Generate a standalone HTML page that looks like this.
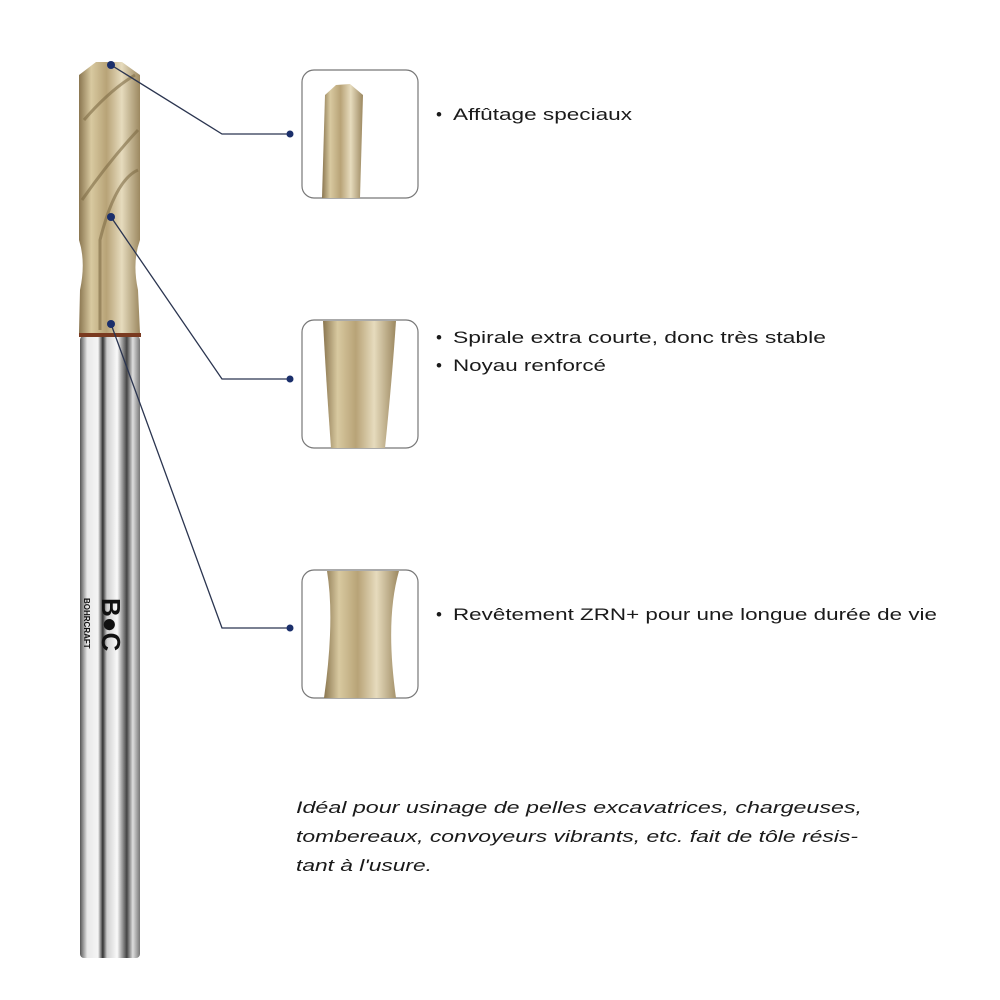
<!DOCTYPE html>
<html><head><meta charset="utf-8"><style>
body{margin:0;background:#fff;}
svg{display:block}
text{font-family:"Liberation Sans",sans-serif;fill:#1a1a1a}
</style></head><body>
<svg width="1000" height="1000" viewBox="0 0 1000 1000" xmlns="http://www.w3.org/2000/svg">
<defs>
<linearGradient id="gold" x1="0" x2="1" y1="0" y2="0">
<stop offset="0" stop-color="#8a7650"/><stop offset="0.2" stop-color="#d8c9a0"/><stop offset="0.45" stop-color="#b8a377"/><stop offset="0.7" stop-color="#e6dbbd"/><stop offset="1" stop-color="#9c8860"/>
</linearGradient>
<linearGradient id="steel" x1="0" x2="1" y1="0" y2="0">
<stop offset="0" stop-color="#555"/><stop offset="0.12" stop-color="#e8e8e8"/><stop offset="0.3" stop-color="#f5f5f5"/><stop offset="0.38" stop-color="#333"/><stop offset="0.45" stop-color="#cfcfcf"/><stop offset="0.62" stop-color="#fafafa"/><stop offset="0.78" stop-color="#444"/><stop offset="0.88" stop-color="#ddd"/><stop offset="1" stop-color="#777"/>
</linearGradient>
</defs>
<rect x="80" y="336" width="60" height="622" rx="4" fill="url(#steel)"/>
<rect x="79" y="333" width="62" height="4" fill="#7a3a20"/>
<path d="M79 75 L96 62 L122 62 L140 75 L140 240 Q132 262 138 290 L140 333 L79 333 L80 290 Q86 262 79 240 Z" fill="url(#gold)"/>
<path d="M84 120 Q110 90 135 75 M82 200 Q110 160 138 130 M100 330 L100 240 Q115 180 138 170" stroke="#7d6a45" stroke-width="3" fill="none" opacity="0.6"/>
<text x="0" y="0" transform="translate(102,598) rotate(90)" font-size="26" font-weight="bold" style="fill:#111">B●C</text>
<text x="0" y="0" transform="translate(84,598) rotate(90)" font-size="8" font-weight="bold" style="fill:#111">BOHRCRAFT</text>
<g stroke="#2b3550" stroke-width="1.3" fill="none">
<polyline points="111,65 222,134 290,134"/>
<polyline points="111,217 222,379 290,379"/>
<polyline points="111,324 222,628 290,628"/>
</g>
<g fill="#1b2f6b">
<circle cx="111" cy="65" r="4"/><circle cx="111" cy="217" r="4"/><circle cx="111" cy="324" r="4"/>
<circle cx="290" cy="134" r="3.5"/><circle cx="290" cy="379" r="3.5"/><circle cx="290" cy="628" r="3.5"/>
</g>
<g>
<rect x="302" y="70" width="116" height="128" rx="12" fill="#fff" stroke="#777" stroke-width="1.2"/>
<path d="M322 198 L325 95 L336 85 L350 84 L363 95 L360 198 Z" fill="url(#gold)"/>
<rect x="302" y="320" width="116" height="128" rx="12" fill="#fff" stroke="#777" stroke-width="1.2"/>
<path d="M323 321 L396 321 Q392 380 385 448 L331 448 Q326 380 323 321 Z" fill="url(#gold)"/>
<rect x="302" y="570" width="116" height="128" rx="12" fill="#fff" stroke="#777" stroke-width="1.2"/>
<path d="M327 571 L399 571 Q385 620 396 698 L324 698 Q335 620 327 571 Z" fill="url(#gold)"/>
</g>
<g font-size="17">
<text x="436" y="120">•</text><text x="453" y="120" textLength="179" lengthAdjust="spacingAndGlyphs">Affûtage speciaux</text>
<text x="436" y="343">•</text><text x="453" y="343" textLength="373" lengthAdjust="spacingAndGlyphs">Spirale extra courte, donc très stable</text>
<text x="436" y="371">•</text><text x="453" y="371" textLength="153" lengthAdjust="spacingAndGlyphs">Noyau renforcé</text>
<text x="436" y="620">•</text><text x="453" y="620" textLength="484" lengthAdjust="spacingAndGlyphs">Revêtement ZRN+ pour une longue durée de vie</text>
</g>
<g font-size="17" font-style="italic">
<text x="296" y="813" textLength="566" lengthAdjust="spacingAndGlyphs">Idéal pour usinage de pelles excavatrices, chargeuses,</text>
<text x="296" y="842" textLength="562" lengthAdjust="spacingAndGlyphs">tombereaux, convoyeurs vibrants, etc. fait de tôle résis-</text>
<text x="296" y="871" textLength="136" lengthAdjust="spacingAndGlyphs">tant à l'usure.</text>
</g>
</svg>
</body></html>
